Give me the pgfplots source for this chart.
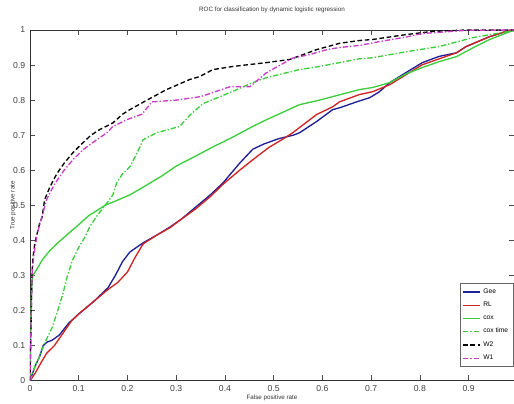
\documentclass[border=0pt]{standalone}
\usepackage{pgfplots}
\pgfplotsset{compat=1.18}
\usepackage{fontspec}
\setmainfont{Liberation Sans}

\definecolor{geeblue}{RGB}{30,30,150}
\definecolor{rlred}{RGB}{210,35,35}
\definecolor{coxgreen}{RGB}{60,205,60}
\definecolor{wmag}{RGB}{200,60,200}

\begin{document}
\begin{tikzpicture}
\begin{axis}[
  scale only axis,
  width=363pt, height=263pt,
  xmin=0, xmax=0.993, ymin=0, ymax=1,
  xtick={0,0.1,...,0.9},
  ytick={0,0.1,...,1},
  xticklabels={0,0.1,0.2,0.3,0.4,0.5,0.6,0.7,0.8,0.9},
  yticklabels={0,0.1,0.2,0.3,0.4,0.5,0.6,0.7,0.8,0.9,1},
  tick align=inside, xtick pos=both, ytick pos=both,
  major tick length=4pt,
  tick style={black!70, line width=0.5pt},
  axis line style={black!80, line width=0.6pt},
  ticklabel style={font=\fontsize{6.5}{7}\selectfont, black!75},
  title={ROC for classification by dynamic logistic regression},
  title style={font=\fontsize{4.7}{5.5}\selectfont, black!80, at={(axis description cs:0.5,1)}, anchor=center, yshift=9pt},
  xlabel={False positive rate},
  xlabel style={font=\fontsize{4.7}{5.5}\selectfont, black!80, at={(axis description cs:0.5,-0.05)}, anchor=center},
  ylabel={True positive rate},
  ylabel style={font=\fontsize{4.7}{5.5}\selectfont, black!80, at={(axis description cs:-0.035,0.5)}, anchor=center},
  legend style={font=\fontsize{5}{5.5}\selectfont, at={(axis description cs:0.999,0.039)}, anchor=south east,
    draw=black!60, row sep=1.1pt, inner sep=1.8pt},
  legend cell align=left,
  legend image post style={xscale=0.75},
  every axis plot/.append style={line width=1pt},
]
% Gee
\addplot[geeblue] coordinates {
(0,0) (0.005,0.02) (0.01,0.04) (0.02,0.07) (0.027,0.10) (0.035,0.11) (0.045,0.115)
(0.06,0.13) (0.08,0.165) (0.1,0.19) (0.13,0.225) (0.16,0.265) (0.175,0.30) (0.19,0.34)
(0.205,0.367) (0.232,0.393) (0.26,0.415) (0.287,0.438) (0.31,0.46) (0.34,0.495) (0.37,0.53)
(0.396,0.564) (0.43,0.62) (0.457,0.66) (0.48,0.675) (0.51,0.69) (0.54,0.70) (0.553,0.707)
(0.588,0.739) (0.621,0.773) (0.635,0.778) (0.67,0.795) (0.697,0.807) (0.717,0.824)
(0.738,0.85) (0.772,0.879) (0.805,0.907) (0.84,0.925) (0.875,0.935) (0.895,0.953)
(0.943,0.981) (0.984,0.999) (1,1)
};
\addlegendentry{Gee}
% RL
\addplot[rlred] coordinates {
(0,0) (0.01,0.02) (0.02,0.045) (0.034,0.078) (0.05,0.10) (0.07,0.14) (0.085,0.17)
(0.102,0.193) (0.13,0.225) (0.16,0.26) (0.18,0.28) (0.2,0.31) (0.215,0.35) (0.232,0.39)
(0.26,0.415) (0.287,0.436) (0.31,0.46) (0.34,0.49) (0.37,0.525) (0.396,0.56) (0.43,0.60)
(0.457,0.63) (0.49,0.665) (0.52,0.69) (0.539,0.707) (0.588,0.759) (0.621,0.781)
(0.635,0.795) (0.676,0.816) (0.703,0.824) (0.738,0.844) (0.772,0.873) (0.805,0.901)
(0.875,0.935) (0.895,0.953) (0.943,0.981) (0.984,0.999) (1,1)
};
\addlegendentry{RL}
% cox
\addplot[coxgreen] coordinates {
(0,0) (0.002,0.2) (0.004,0.28) (0.006,0.30) (0.015,0.32) (0.025,0.344) (0.04,0.37)
(0.057,0.393) (0.075,0.415) (0.1,0.445) (0.12,0.47) (0.154,0.50) (0.18,0.515)
(0.205,0.53) (0.23,0.55) (0.26,0.575) (0.273,0.586) (0.3,0.612) (0.342,0.642)
(0.38,0.67) (0.41,0.69) (0.43,0.705) (0.457,0.725) (0.485,0.744) (0.526,0.77)
(0.553,0.787) (0.594,0.80) (0.621,0.81) (0.676,0.83) (0.703,0.836) (0.738,0.85)
(0.772,0.875) (0.805,0.893) (0.84,0.91) (0.875,0.924) (0.91,0.95) (0.943,0.973)
(0.984,0.995) (1,1)
};
\addlegendentry{cox}
% cox time
\addplot[coxgreen, dash pattern=on 4pt off 1.5pt on 1pt off 1.5pt] coordinates {
(0,0) (0.01,0.04) (0.02,0.07) (0.03,0.107) (0.045,0.15) (0.057,0.2) (0.068,0.25)
(0.075,0.29) (0.086,0.34) (0.1,0.38) (0.113,0.41) (0.123,0.44) (0.14,0.475)
(0.158,0.507) (0.17,0.53) (0.178,0.565) (0.19,0.59) (0.205,0.61) (0.22,0.65)
(0.232,0.687) (0.26,0.707) (0.307,0.725) (0.33,0.76) (0.355,0.79) (0.39,0.81)
(0.416,0.825) (0.457,0.85) (0.485,0.864) (0.526,0.878) (0.553,0.887) (0.594,0.896)
(0.635,0.907) (0.676,0.918) (0.703,0.921) (0.772,0.938) (0.84,0.953) (0.908,0.978)
(0.957,0.99) (1,1)
};
\addlegendentry{cox time}
% W2
\addplot[black, dash pattern=on 3.5pt off 2pt] coordinates {
(0,0) (0.002,0.15) (0.004,0.3) (0.006,0.35) (0.01,0.393) (0.02,0.45) (0.025,0.467)
(0.03,0.516) (0.041,0.553) (0.055,0.59) (0.07,0.62) (0.088,0.65) (0.109,0.679)
(0.125,0.70) (0.143,0.716) (0.17,0.735) (0.19,0.76) (0.205,0.773) (0.24,0.80)
(0.28,0.83) (0.328,0.859) (0.348,0.867) (0.375,0.887) (0.416,0.896) (0.485,0.907)
(0.533,0.916) (0.588,0.944) (0.635,0.962) (0.676,0.97) (0.703,0.973) (0.772,0.987)
(0.826,0.996) (0.895,1) (1,1)
};
\addlegendentry{W2}
% W1
\addplot[wmag, dash pattern=on 4pt off 1.5pt on 1pt off 1.5pt] coordinates {
(0,0) (0.002,0.15) (0.004,0.3) (0.008,0.36) (0.015,0.42) (0.025,0.47) (0.034,0.516)
(0.05,0.56) (0.07,0.60) (0.088,0.63) (0.11,0.66) (0.137,0.687) (0.158,0.707)
(0.17,0.725) (0.2,0.745) (0.23,0.76) (0.25,0.795) (0.3,0.80) (0.35,0.81) (0.363,0.816)
(0.41,0.838) (0.451,0.838) (0.485,0.878) (0.539,0.92) (0.574,0.93) (0.609,0.944)
(0.635,0.95) (0.676,0.956) (0.717,0.967) (0.772,0.98) (0.805,0.99) (0.895,0.999) (1,1)
};
\addlegendentry{W1}
\end{axis}
\coordinate (bbA) at ([shift={(-22.5pt,-16.9pt)}]current axis.south west);
\coordinate (bbB) at ([shift={(0pt,22.5pt)}]current axis.north east);
\pgfresetboundingbox
\path[use as bounding box] (bbA) rectangle (bbB);
\end{tikzpicture}
\end{document}
